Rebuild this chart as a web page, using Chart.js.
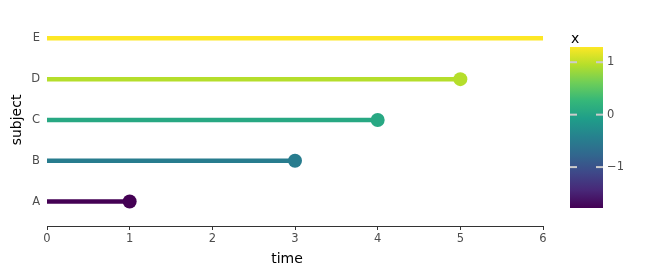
<!DOCTYPE html>
<html>
<head>
<meta charset="utf-8">
<script src="https://cdn.jsdelivr.net/npm/chart.js@4"></script>
<style>
  body { margin:0; background:#fff; }
  #wrap { width:651px; height:277px; }
</style>
</head>
<body>
<div id="wrap"><canvas id="survChart" width="651" height="277"></canvas></div>
<script>
const subjects = ["A","B","C","D","E"];
const times = [1, 3, 4, 5, 6];
const xValues = [-1.78, -0.49, 0.06, 0.95, 1.29];
const hasEvent = [true, true, true, true, false];
const xTicks = [0, 1, 2, 3, 4, 5, 6];
const cbTicks = [1, 0, -1];

// viridis stops
const viridis = ["#440154","#482878","#3e4989","#31688e","#26828e","#1f9e89","#35b779","#6ece58","#b5de2b","#fde725"];
const xMin = Math.min(...xValues), xMax = Math.max(...xValues);

function hexToRgb(h) {
  return [parseInt(h.slice(1,3),16), parseInt(h.slice(3,5),16), parseInt(h.slice(5,7),16)];
}
function viridisAt(t) {
  t = Math.max(0, Math.min(1, t));
  const p = t * (viridis.length - 1);
  const i = Math.min(Math.floor(p), viridis.length - 2);
  const f = p - i;
  const a = hexToRgb(viridis[i]), b = hexToRgb(viridis[i+1]);
  return `rgb(${a.map((v,k) => Math.round(v + (b[k]-v)*f)).join(",")})`;
}
function colorFor(v) { return viridisAt((v - xMin) / (xMax - xMin)); }

const datasets = subjects.map((s, i) => ({
  label: s,
  data: [{ x: 0, y: i }, { x: times[i], y: i }],
  borderColor: colorFor(xValues[i]),
  backgroundColor: colorFor(xValues[i]),
  borderWidth: 4.5,
  pointRadius: [0, hasEvent[i] ? 7 : 0],
  pointHoverRadius: [0, hasEvent[i] ? 7 : 0],
  pointBorderWidth: 0,
  borderCapStyle: "butt",
  clip: false
}));

// colour bar legend + x axis title
const colorBar = {
  id: "colorBar",
  afterDraw(chart) {
    const c = chart.ctx;
    const x0 = 570, w = 33, top = 47, bottom = 208;
    const grad = c.createLinearGradient(0, bottom, 0, top);
    viridis.forEach((col, k) => grad.addColorStop(k / (viridis.length - 1), col));
    c.save();
    c.fillStyle = grad;
    c.fillRect(x0, top, w, bottom - top);
    c.font = "14px 'DejaVu Sans'";
    c.fillStyle = "#000";
    c.textBaseline = "alphabetic";
    c.fillText("x", 571, 43);
    c.textAlign = "center";
    c.textBaseline = "middle";
    c.fillText("time", 287, 259);
    c.textAlign = "left";
    c.font = "11.5px 'DejaVu Sans'";
    cbTicks.forEach(v => {
      const y = bottom - (v - xMin) / (xMax - xMin) * (bottom - top);
      c.fillStyle = "#cccccc";
      c.fillRect(x0, y - 1, 7, 2);
      c.fillRect(x0 + w - 7, y - 1, 7, 2);
      c.fillStyle = "#4d4d4d";
      c.fillText(v < 0 ? "\u2212" + Math.abs(v) : String(v), 607, y);
    });
    c.restore();
  }
};

const ctx = document.getElementById("survChart").getContext("2d");
const survChart = new Chart(ctx, {
  type: "line",
  data: { datasets },
  options: {
    responsive: false,
    animation: false,
    layout: { padding: { left: 9, right: 108, top: 10, bottom: 8 } },
    plugins: { legend: { display: false }, tooltip: { enabled: false } },
    scales: {
      x: {
        type: "linear", min: 0, max: 6,
        afterBuildTicks: s => { s.ticks = xTicks.map(v => ({ value: v })); },
        afterFit: s => { s.height = 43; },
        grid: { drawOnChartArea: false, tickLength: 4, color: "#333", tickWidth: 1 },
        border: { display: true, color: "#333", width: 1 },
        ticks: { color: "#4d4d4d", font: { family: "DejaVu Sans", size: 11.5 }, padding: 2, maxRotation: 0 },
        title: { display: false }
      },
      y: {
        type: "linear", min: -0.6, max: 4.6,
        afterBuildTicks: s => { s.ticks = subjects.map((_, i) => ({ value: i })); },
        afterFit: s => { s.width = 38; },
        grid: { display: false, drawTicks: false },
        border: { display: false },
        ticks: { color: "#4d4d4d", font: { family: "DejaVu Sans", size: 11.5 }, padding: 7,
                 callback: v => subjects[v] },
        title: { display: true, text: "subject", color: "#000", font: { family: "DejaVu Sans", size: 14 }, padding: { top: 0, bottom: 4 } }
      }
    }
  },
  plugins: [colorBar]
});
</script>
</body>
</html>
